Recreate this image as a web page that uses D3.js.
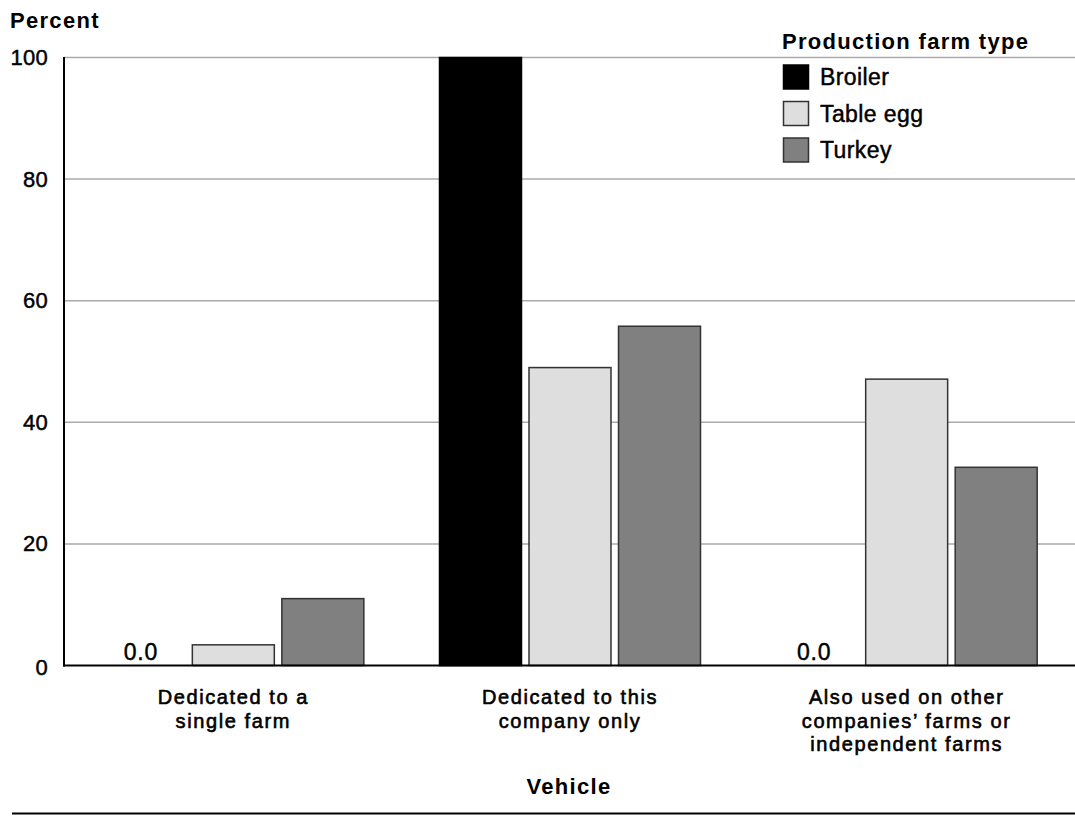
<!DOCTYPE html>
<html>
<head>
<meta charset="utf-8">
<script src="https://cdn.jsdelivr.net/npm/d3@7"></script>
<style>
  html, body { margin: 0; padding: 0; background: #fff; }
  svg { display: block; font-family: "Liberation Sans", Arial, Helvetica, sans-serif; }
  .reg { stroke: #000; stroke-width: 0.45px; }
  .cat { stroke: #000; stroke-width: 0.6px; }
</style>
</head>
<body>
<svg id="chart" width="1075" height="816"></svg>
<script>
// ---- Data ----
const categories = [
  ["Dedicated to a", "single farm"],
  ["Dedicated to this", "company only"],
  ["Also used on other", "companies\u2019 farms or", "independent farms"]
];
const seriesNames = ["Broiler", "Table egg", "Turkey"];
const broilerValues  = [0.0, 100.0, 0.0];
const tableEggValues = [3.4, 49.0, 47.1];
const turkeyValues   = [11.0, 55.8, 32.6];
const yTicks = [0, 20, 40, 60, 80, 100];
const yAxisTitle = "Percent";
const xAxisTitle = "Vehicle";
const legendTitle = "Production farm type";

const seriesColors = ["#000000", "#dedede", "#808080"];
const seriesStroke = ["#000000", "#333333", "#333333"];
const seriesValues = [broilerValues, tableEggValues, turkeyValues];

const catKeys = categories.map((c, i) => "c" + i);
const rows = [];
catKeys.forEach((k, ci) => {
  seriesNames.forEach((s, si) => rows.push({ cat: k, ci, series: s, si, value: seriesValues[si][ci] }));
});

// ---- Scales ----
const svg = d3.select("#chart");
const plotLeft = 64, plotRight = 1075, plotTop = 57.5, plotBottom = 665.5;

const y = d3.scaleLinear().domain([0, 100]).range([plotBottom, plotTop]);
const x0 = d3.scaleBand().domain(catKeys).range([65, 1075]).padding(0);
const groupWidth = 261;
const x1 = d3.scaleBand().domain(seriesNames).range([0, groupWidth]).paddingInner(0.084).paddingOuter(0);
const groupOffset = (x0.bandwidth() - groupWidth) / 2;

// ---- Gridlines ----
svg.append("g").selectAll("line").data(yTicks.filter(t => t > 0)).join("line")
  .attr("x1", plotLeft).attr("x2", plotRight)
  .attr("y1", d => y(d)).attr("y2", d => y(d))
  .attr("stroke", "#aaaaaa").attr("stroke-width", 1.5);

// ---- Y tick labels ----
svg.append("g").selectAll("text").data(yTicks).join("text")
  .attr("class", "reg")
  .attr("x", 48).attr("y", d => y(d) + (d === 0 ? 9 : 7.5))
  .attr("text-anchor", "end")
  .attr("font-size", 22).attr("letter-spacing", 0.3)
  .attr("fill", "#000")
  .text(d => d);

svg.append("text").attr("x", 10).attr("y", 28)
  .attr("font-size", 22).attr("font-weight", "bold").attr("letter-spacing", 1.3)
  .text(yAxisTitle);

// ---- Bars ----
svg.append("g").selectAll("rect").data(rows.filter(d => d.value > 0)).join("rect")
  .attr("x", d => x0(d.cat) + groupOffset + x1(d.series))
  .attr("width", x1.bandwidth())
  .attr("y", d => y(d.value))
  .attr("height", d => y(0) - y(d.value))
  .attr("fill", d => seriesColors[d.si])
  .attr("stroke", d => seriesStroke[d.si])
  .attr("stroke-width", 1.5);

// zero-value labels
svg.append("g").selectAll("text").data(rows.filter(d => d.value === 0)).join("text")
  .attr("class", "reg")
  .attr("x", d => x0(d.cat) + groupOffset + x1(d.series) + x1.bandwidth() / 2 - 3)
  .attr("y", y(0) - 6)
  .attr("text-anchor", "middle")
  .attr("font-size", 23).attr("letter-spacing", 0.8)
  .text(d => d3.format(".1f")(d.value));

// ---- Axes lines ----
svg.append("line").attr("x1", plotLeft).attr("x2", plotLeft)
  .attr("y1", plotTop - 0.5).attr("y2", plotBottom + 1)
  .attr("stroke", "#000").attr("stroke-width", 2);
svg.append("line").attr("x1", plotLeft - 1).attr("x2", plotRight)
  .attr("y1", plotBottom).attr("y2", plotBottom)
  .attr("stroke", "#000").attr("stroke-width", 2);

// ---- Category labels ----
const catG = svg.append("g").selectAll("text").data(catKeys).join("text")
  .attr("class", "cat")
  .attr("text-anchor", "middle")
  .attr("font-size", 20).attr("letter-spacing", 1.6);
catG.each(function(k, i) {
  const t = d3.select(this);
  categories[i].forEach((line, li) => {
    t.append("tspan")
      .attr("x", x0(k) + x0.bandwidth() / 2)
      .attr("y", 704 + li * 23.5)
      .text(line);
  });
});

svg.append("text").attr("x", 569).attr("y", 794)
  .attr("text-anchor", "middle")
  .attr("font-size", 22).attr("font-weight", "bold").attr("letter-spacing", 1.3)
  .text(xAxisTitle);

// ---- Legend ----
const legend = svg.append("g");
legend.append("text").attr("x", 782).attr("y", 49)
  .attr("font-size", 22).attr("font-weight", "bold").attr("letter-spacing", 1.3)
  .text(legendTitle);
const legendY = d3.scalePoint().domain(seriesNames).range([65, 138]);
const li = legend.selectAll("g.item").data(seriesNames).join("g").attr("class", "item");
li.append("rect")
  .attr("x", 783.5).attr("y", d => legendY(d))
  .attr("width", 25).attr("height", 24)
  .attr("fill", (d, i) => seriesColors[i])
  .attr("stroke", (d, i) => seriesStroke[i]).attr("stroke-width", 1.5);
li.append("text")
  .attr("class", "reg")
  .attr("x", 820).attr("y", d => legendY(d) + 20)
  .attr("font-size", 23).attr("letter-spacing", 0.4)
  .text(d => d);

// ---- Bottom rule ----
svg.append("line").attr("x1", 12).attr("x2", 1075)
  .attr("y1", 813.5).attr("y2", 813.5)
  .attr("stroke", "#000").attr("stroke-width", 2);
</script>
</body>
</html>
